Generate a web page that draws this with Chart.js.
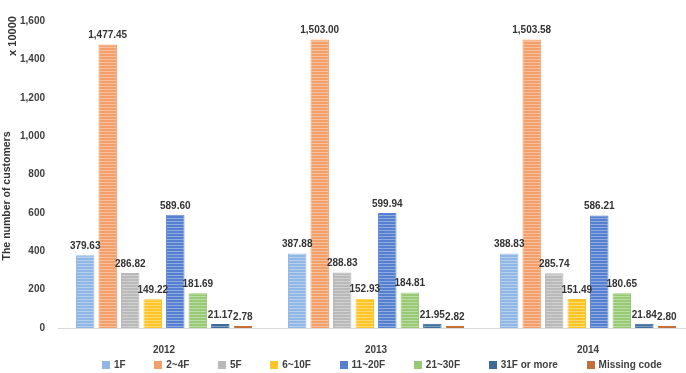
<!DOCTYPE html>
<html>
<head>
<meta charset="utf-8">
<script src="https://cdn.jsdelivr.net/npm/chart.js@4"></script>
<style>
  html, body { margin: 0; padding: 0; background: #fff; overflow: hidden; }
  #wrap { position: relative; width: 686px; height: 373px; overflow: hidden; }
  #box { position: absolute; left: 0; top: 0; width: 700px; height: 373px; }
  #legend {
    position: absolute; left: 102px; top: 359px; width: 560px;
    display: flex; justify-content: space-between;
    font: bold 10px "Liberation Sans", Arial, sans-serif; color: #404040;
  }
  #legend span.item { display: flex; align-items: center; white-space: nowrap; }
  #legend i { display: inline-block; width: 8px; height: 8px; margin-right: 4px; }
</style>
</head>
<body>
<div id="wrap">
  <div id="box"><canvas id="myChart" width="700" height="373"></canvas></div>
  <div id="legend"></div>
</div>
<script>
// values are in units of 10000 customers
let years = ["2012", "2013", "2014"];
let floors = ["1F", "2~4F", "5F", "6~10F", "11~20F", "21~30F", "31F or more", "Missing code"];
let f1 = [379.63, 387.88, 388.83];
let f2to4 = [1477.45, 1503.00, 1503.58];
let f5 = [286.82, 288.83, 285.74];
let f6to10 = [149.22, 152.93, 151.49];
let f11to20 = [589.60, 599.94, 586.21];
let f21to30 = [181.69, 184.81, 180.65];
let f31up = [21.17, 21.95, 21.84];
let missing = [2.78, 2.82, 2.80];
let yTicks = [0, 200, 400, 600, 800, 1000, 1200, 1400, 1600];

let colors = ['#8fb6e4', '#f39f6a', '#b9b9b9', '#ffc526', '#5580d0', '#98c975', '#3b6c9c', '#c46e38'];
let series = [f1, f2to4, f5, f6to10, f11to20, f21to30, f31up, missing];

// striped fill like the original bars
function stripes(color) {
  let c = document.createElement('canvas');
  c.width = 4; c.height = 3;
  let x = c.getContext('2d');
  x.fillStyle = color;
  x.fillRect(0, 0, 4, 3);
  x.fillStyle = 'rgba(255,255,255,0.35)';
  x.fillRect(0, 2, 4, 1);
  return x.createPattern(c, 'repeat');
}

let labelFont = 'bold 10px "Liberation Sans", Arial, sans-serif';

let barLabels = {
  id: 'barLabels',
  afterDatasetsDraw(chart) {
    let ctx = chart.ctx;
    ctx.save();
    ctx.font = labelFont;
    ctx.fillStyle = '#333';
    ctx.textAlign = 'center';
    ctx.textBaseline = 'bottom';
    chart.data.datasets.forEach((ds, i) => {
      chart.getDatasetMeta(i).data.forEach((bar, j) => {
        let v = ds.data[j].toLocaleString('en-US', {minimumFractionDigits: 2, maximumFractionDigits: 2});
        ctx.fillText(v, bar.x, bar.y - 4);
      });
    });
    ctx.restore();
  }
};

let axisText = {
  id: 'axisText',
  afterDraw(chart) {
    let ctx = chart.ctx;
    let a = chart.chartArea;
    ctx.save();
    ctx.fillStyle = '#333';
    ctx.textAlign = 'center';
    ctx.textBaseline = 'middle';
    ctx.translate(7, a.top + (a.bottom - a.top) * 0.57);
    ctx.rotate(-Math.PI / 2);
    ctx.font = 'bold 10.5px "Liberation Sans", Arial, sans-serif';
    ctx.fillText('The number of customers', 0, 0);
    ctx.restore();
    ctx.save();
    ctx.fillStyle = '#333';
    ctx.textAlign = 'center';
    ctx.textBaseline = 'middle';
    ctx.translate(13, a.top + 15);
    ctx.rotate(-Math.PI / 2);
    ctx.font = 'bold 11px "Liberation Sans", Arial, sans-serif';
    ctx.fillText('x 10000', 0, 0);
    ctx.restore();
  }
};

let barChart = new Chart(document.getElementById("myChart"), {
  type: 'bar',
  data: {
    labels: years,
    datasets: floors.map((f, i) => ({
      label: f,
      data: series[i],
      backgroundColor: stripes(colors[i]),
      borderColor: colors[i],
      borderWidth: 1,
      minBarLength: 2,
      categoryPercentage: 0.85,
      barPercentage: 0.82
    }))
  },
  options: {
    responsive: false,
    animation: false,
    layout: { padding: { left: 7, right: 6, top: 21, bottom: 9 } },
    plugins: {
      legend: { display: false },
      tooltip: { enabled: false }
    },
    scales: {
      x: {
        grid: { display: false },
        border: { display: true, color: '#d9d9d9' },
        ticks: { font: { family: '"Liberation Sans", Arial, sans-serif', size: 10, weight: 'bold' }, color: '#404040', padding: 8 }
      },
      y: {
        min: 0,
        max: 1600,
        afterBuildTicks: (axis) => { axis.ticks = yTicks.map(v => ({ value: v })); },
        grid: { display: false, drawTicks: false },
        border: { display: false },
        ticks: {
          font: { family: '"Liberation Sans", Arial, sans-serif', size: 10, weight: 'bold' },
          color: '#404040',
          padding: 13,
          callback: (v) => v.toLocaleString('en-US')
        }
      }
    }
  },
  plugins: [barLabels, axisText]
});

let legend = document.getElementById('legend');
floors.forEach((f, i) => {
  legend.innerHTML += '<span class="item"><i style="background:' + colors[i] + '"></i>' + f + '</span>';
});
</script>
</body>
</html>
